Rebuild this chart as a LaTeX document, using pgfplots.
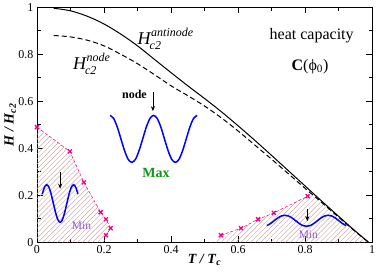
\documentclass[border=0pt]{standalone}
\usepackage{fontspec}
\setmainfont{Liberation Serif}
\usepackage{pgfplots}
\pgfplotsset{compat=1.18}
\usetikzlibrary{patterns.meta,arrows.meta}

\definecolor{hatch}{RGB}{205,165,165}
\definecolor{maxgreen}{RGB}{20,150,20}
\definecolor{minpurple}{RGB}{150,90,210}
\definecolor{wave}{RGB}{0,0,255}

\newcommand{\Hc}[1]{{\fontsize{18}{18}\selectfont\itshape H}\kern-1pt\rlap{\raisebox{-5pt}{\fontsize{12}{12}\selectfont\itshape c2}}\kern1.5pt\raisebox{8pt}{\fontsize{12}{12}\selectfont\itshape #1}}

\begin{document}
\begin{tikzpicture}
\begin{axis}[
  scale only axis, width=335pt, height=235pt,
  xmin=0, xmax=1, ymin=0, ymax=1,
  xtick={0,0.2,0.4,0.6,0.8,1}, ytick={0,0.2,0.4,0.6,0.8,1},
  minor tick num=1,
  tick align=inside,
  major tick length=6pt, minor tick length=3.5pt,
  axis line style={line width=0.9pt},
  every tick/.style={black, line width=0.7pt},
  tick label style={font=\fontsize{12}{12}\selectfont},
  /pgf/number format/assume math mode=true,
  xlabel={\textbf{\textit{T / T}}\textsubscript{\textbf{\textit{c}}}},
  ylabel={\textbf{\textit{H / H}}\textsubscript{\textbf{\textit{c2}}}},
  label style={font=\fontsize{14}{14}\selectfont},
  xlabel style={at={(axis description cs:0.5,0)}, anchor=center, yshift=-18pt},
  ylabel style={at={(axis description cs:-0.08,0.5)}, anchor=center},
]
% hatched regions
\addplot[draw=none, pattern={Lines[angle=45,distance=3.5pt,line width=0.45pt]}, pattern color=hatch]
  coordinates {(0,0.49) (0.098,0.387) (0.14,0.255) (0.19,0.128) (0.206,0.098) (0.22,0.06) (0.206,0.03) (0.203,0)} \closedcycle;
\addplot[draw=none, pattern={Lines[angle=45,distance=3.5pt,line width=0.45pt]}, pattern color=hatch]
  coordinates {(0.52,0) (0.549,0.03) (0.609,0.06) (0.66,0.098) (0.707,0.125) (0.808,0.196) (0.83,0.205) (0.85,0.175) (0.90,0.111) (0.95,0.048) (0.99,0)} \closedcycle;

% Hc2 curves
\addplot[black, line width=1pt, smooth] coordinates {
(0.05,0.996) (0.10,0.985) (0.15,0.962) (0.20,0.929) (0.25,0.886) (0.30,0.836)
(0.35,0.779) (0.40,0.722) (0.45,0.666) (0.50,0.612) (0.55,0.556) (0.60,0.496)
(0.65,0.434) (0.70,0.370) (0.75,0.305) (0.80,0.240) (0.85,0.175) (0.90,0.111)
(0.95,0.048) (0.99,0.0)};
\addplot[black, line width=1pt, dash pattern=on 5pt off 3pt, smooth] coordinates {
(0.05,0.880) (0.10,0.874) (0.15,0.860) (0.20,0.836) (0.25,0.800) (0.30,0.760)
(0.35,0.714) (0.40,0.666) (0.45,0.624) (0.50,0.580) (0.55,0.530) (0.60,0.474)
(0.65,0.414) (0.70,0.354) (0.75,0.292) (0.80,0.230) (0.85,0.169) (0.90,0.107)
(0.95,0.046) (0.99,0.0)};

% magenta boundaries
\addplot[magenta, line width=0.5pt, densely dashed, mark=x, mark size=2.8pt,
  mark options={solid, line width=1.3pt}] coordinates {
(0,0.49) (0.098,0.387) (0.14,0.255) (0.19,0.128) (0.206,0.098) (0.22,0.06) (0.206,0.03)};
\addplot[magenta, line width=0.5pt, densely dashed, mark=x, mark size=2.8pt,
  mark options={solid, line width=1.3pt}] coordinates {
(0.549,0.03) (0.609,0.06) (0.66,0.098) (0.707,0.125) (0.808,0.196)};

% waves
\addplot[wave, line width=1.5pt, smooth] coordinates {
(0.2180,0.540) (0.2288,0.527) (0.2397,0.490) (0.2505,0.440) (0.2613,0.390)
(0.2722,0.353) (0.2830,0.340) (0.2938,0.353) (0.3047,0.390) (0.3155,0.440)
(0.3263,0.490) (0.3372,0.527) (0.3480,0.540) (0.3588,0.527) (0.3697,0.490)
(0.3805,0.440) (0.3913,0.390) (0.4022,0.353) (0.4130,0.340) (0.4238,0.353)
(0.4347,0.390) (0.4455,0.440) (0.4563,0.490) (0.4672,0.527) (0.4780,0.540)};
\addplot[wave, line width=1.5pt, smooth] coordinates {
(0.0157,0.205) (0.0223,0.234) (0.0290,0.245) (0.0357,0.234) (0.0423,0.205)
(0.0490,0.165) (0.0557,0.125) (0.0623,0.096) (0.0690,0.085) (0.0757,0.096)
(0.0823,0.125) (0.0890,0.165) (0.0957,0.205) (0.1023,0.234) (0.1090,0.245)
(0.1157,0.234) (0.1223,0.205)};
\addplot[wave, line width=1.5pt, smooth] coordinates {
(0.6862,0.0711) (0.6970,0.0798) (0.7078,0.0915) (0.7185,0.1033) (0.7293,0.1119)
(0.7400,0.1150) (0.7508,0.1119) (0.7615,0.1033) (0.7723,0.0915) (0.7830,0.0798)
(0.7938,0.0711) (0.8045,0.0680) (0.8153,0.0711) (0.8260,0.0798) (0.8368,0.0915)
(0.8475,0.1033) (0.8583,0.1119) (0.8690,0.1150) (0.8798,0.1119) (0.8905,0.1033)
(0.9013,0.0915) (0.9120,0.0798) (0.9228,0.0711)};

% arrows
\draw[black, line width=0.8pt, -{Stealth[length=5pt,width=4pt]}] (axis cs:0.346,0.64) -- (axis cs:0.346,0.558);
\draw[black, line width=0.8pt, -{Stealth[length=5pt,width=4pt]}] (axis cs:0.069,0.30) -- (axis cs:0.069,0.228);
\draw[black, line width=0.8pt, -{Stealth[length=5pt,width=4pt]}] (axis cs:0.807,0.142) -- (axis cs:0.807,0.090);

% texts
\node[anchor=base west, inner sep=0pt] at (axis cs:0.30,0.843) {\Hc{antinode}};
\node[anchor=base west, inner sep=0pt] at (axis cs:0.107,0.736) {\Hc{node}};
\node[anchor=base, inner sep=0pt, font=\fontsize{16}{16}\selectfont] at (axis cs:0.82,0.864) {heat capacity};
\node[anchor=base, inner sep=0pt, font=\fontsize{16}{16}\selectfont] at (axis cs:0.815,0.732) {\textbf{C}(ϕ\textsubscript{0})};
\node[anchor=base, inner sep=0pt, font=\fontsize{12}{12}\selectfont\bfseries] at (axis cs:0.291,0.613) {node};
\node[anchor=base, inner sep=0pt, font=\fontsize{14}{14}\selectfont\bfseries, text=maxgreen] at (axis cs:0.355,0.277) {Max};
\node[anchor=base, inner sep=0pt, font=\fontsize{11.5}{12}\selectfont, text=minpurple] at (axis cs:0.133,0.055) {Min};
\node[anchor=base, inner sep=0pt, font=\fontsize{11.5}{12}\selectfont, text=minpurple] at (axis cs:0.81,0.017) {Min};
\end{axis}
\path ([shift={(-37pt,-33pt)}]current axis.south west) rectangle ([shift={(18pt,5pt)}]current axis.north east);
\end{tikzpicture}
\end{document}
